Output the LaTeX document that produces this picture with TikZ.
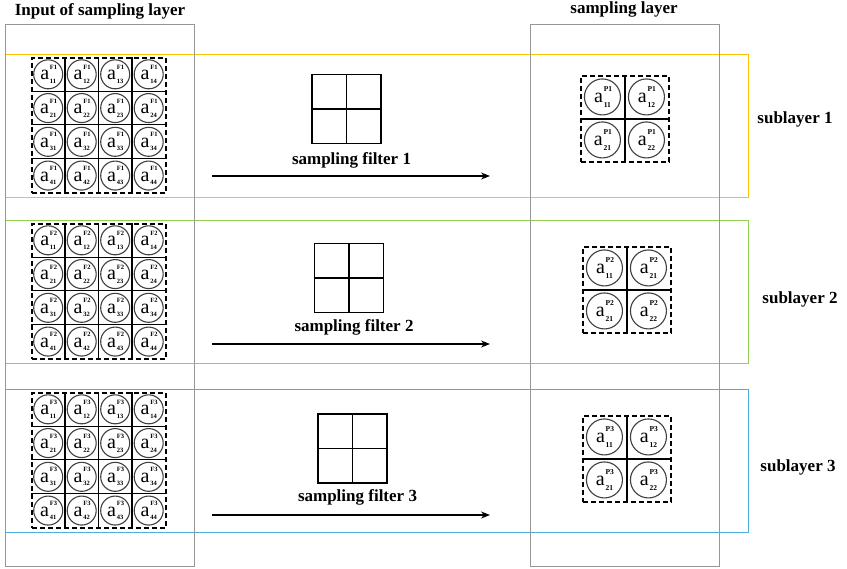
\documentclass[tikz,border=0pt]{standalone}
\usepackage{fontspec}
\setmainfont{Liberation Serif}
\usetikzlibrary{arrows.meta,calc}
\definecolor{subO}{RGB}{255,192,0}
\definecolor{subG}{RGB}{146,208,80}
\definecolor{subB}{RGB}{75,172,222}
\definecolor{frameg}{RGB}{150,150,150}
\newcommand\alabL[2]{{\fontsize{20}{20}\selectfont a}\kern0.8pt\rlap{\raisebox{10.5pt}{\fontsize{6.5}{6.5}\selectfont\bfseries #1}}\raisebox{-3.5pt}{\fontsize{6.5}{6.5}\selectfont\bfseries #2}}
\newcommand\alabR[2]{{\fontsize{20}{20}\selectfont a}\kern0.8pt\rlap{\raisebox{10.5pt}{\fontsize{7.5}{7.5}\selectfont\bfseries #1}}\raisebox{-5pt}{\fontsize{7.5}{7.5}\selectfont\bfseries #2}}
\tikzset{
  graybox/.style={draw=frameg,line width=1.4pt,anchor=north west,inner sep=0pt},
  subbox/.style={line width=1.2pt,anchor=north west,inner sep=0pt},
  gridframe/.style={draw=black,line width=1.1pt,dash pattern=on 5pt off 3pt,inner sep=0pt},
  gridline/.style={line width=1.1pt,black},
  lcirc/.style={circle,draw=black!75,line width=1.1pt,minimum size=29pt,inner sep=0pt},
  rcirc/.style={circle,draw=black!75,line width=1.1pt,minimum size=36pt,inner sep=0pt},
  filterbox/.style={draw=black,line width=1.2pt,minimum size=69pt,inner sep=0pt},
  lbl/.style={font=\fontsize{17}{17}\selectfont\bfseries,inner sep=0pt},
  arrowline/.style={line width=1.2pt,-{Stealth[length=9pt,width=7pt]}}
}
\begin{document}
\begin{tikzpicture}[x=1pt,y=-1pt]
\useasboundingbox[fill=white] (0,0) rectangle (847,569);
% sublayer boxes
\node[subbox,draw=subO,minimum width=743pt,minimum height=143pt] (S1) at (5,54) {};
\node[subbox,draw=subG,minimum width=743pt,minimum height=143pt] (S2) at (5,220) {};
\node[subbox,draw=subB,minimum width=743pt,minimum height=143pt] (S3) at (5,389) {};
% layer boxes
\node[graybox,minimum width=189pt,minimum height=542pt] (inbox) at (5,24) {};
\node[graybox,minimum width=189pt,minimum height=542pt] (outbox) at (530,24) {};
% titles
\node[lbl] (tin) at (100,11) {Input of sampling layer};
\node[lbl] (tout) at (624,9) {sampling layer};
\node[lbl] (sl1) at (795,119) {sublayer 1};
\node[lbl] (sl2) at (800,299) {sublayer 2};
\node[lbl] (sl3) at (798,467) {sublayer 3};
% input grids
\foreach \g/\x/\y/\lab in {L1/32/58/F1, L2/32/224/F2, L3/32/393/F3}{
  \node[gridframe,minimum width=134pt,minimum height=135pt] (\g) at (\x+67,\y+67.5) {};
  \foreach \i in {1,2,3}{
    \draw[gridline] ($(\g.north west)+(\i*33.5,0)$) -- ($(\g.south west)+(\i*33.5,0)$);
    \draw[gridline] ($(\g.north west)+(0,\i*33.75)$) -- ($(\g.north east)+(0,\i*33.75)$);
  }
  \foreach \r in {1,...,4}{
    \foreach \c in {1,...,4}{
      \node[lcirc] (\g-\r\c) at ($(\g.north west)+(\c*33.5-16.75,\r*33.75-16.875)$) {\alabL{\lab}{\r\c}};
    }
  }
}
% output grids
\foreach \g/\x/\y/\lab/\la/\lb/\lc/\ld in {R1/581/76/P1/11/12/21/22, R2/583/247/P2/11/21/21/22, R3/583/416/P3/11/12/21/22}{
  \node[gridframe,minimum width=88pt,minimum height=86pt] (\g) at (\x+44,\y+43) {};
  \draw[gridline] (\g.north) -- (\g.south);
  \draw[gridline] (\g.west) -- (\g.east);
  \node[rcirc] (\g-a) at ($(\g.north west)+(22,21.5)$) {\alabR{\lab}{\la}};
  \node[rcirc] (\g-b) at ($(\g.north west)+(66,21.5)$) {\alabR{\lab}{\lb}};
  \node[rcirc] (\g-c) at ($(\g.north west)+(22,64.5)$) {\alabR{\lab}{\lc}};
  \node[rcirc] (\g-d) at ($(\g.north west)+(66,64.5)$) {\alabR{\lab}{\ld}};
}
% filters
\foreach \f/\x/\y/\ty/\ay/\n in {F1/346.5/109/160/176/1, F2/349/278/327/344/2, F3/352.5/448.5/497/515/3}{
  \node[filterbox] (\f) at (\x,\y) {};
  \draw[line width=1.2pt] (\f.north) -- (\f.south);
  \draw[line width=1.2pt] (\f.west) -- (\f.east);
  \node[lbl] (\f-t) at (\x+5,\ty) {sampling filter \n};
  \coordinate (\f-as) at (212,\ay);
  \coordinate (\f-ae) at (490,\ay);
  \draw[arrowline] (\f-as) -- (\f-ae);
}
\end{tikzpicture}
\end{document}
